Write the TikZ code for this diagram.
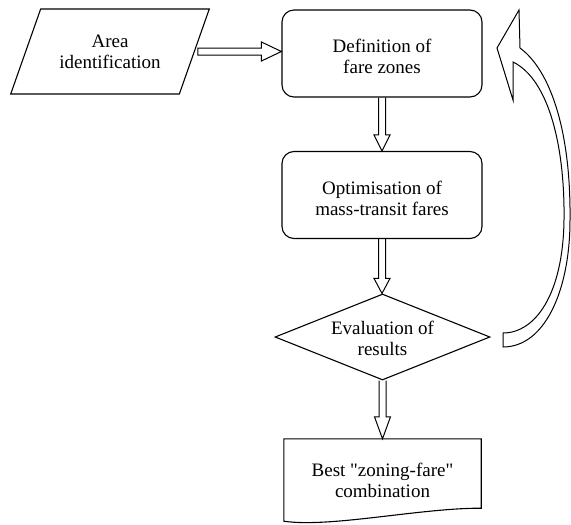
\documentclass[tikz,border=0pt]{standalone}
\usepackage{fontspec}
\setmainfont{Liberation Serif}
\newfontfamily\plainqfont{Liberation Serif}
\usetikzlibrary{shapes.geometric,calc}
\newcommand{\varrowdraw}[3]{\draw[blockarrow] let \p1=(#1), \p2=(#2) in (\x1-3.5pt,\y1) -- (\x1-3.5pt,\y2+#3) -- (\x1-8pt,\y2+#3) -- (\x1,\y2) -- (\x1+8pt,\y2+#3) -- (\x1+3.5pt,\y2+#3) -- (\x1+3.5pt,\y1);}
\newcommand{\dropstrut}{\rule{0pt}{19.5pt}}
\begin{document}
\begin{tikzpicture}[x=1pt,y=-1pt,
 every node/.style={font=\fontsize{19}{21}\selectfont, align=center},
 outline/.style={draw, line width=1.1pt},
 procbox/.style={outline, rectangle, rounded corners=12pt, minimum width=200pt, minimum height=87pt, inner sep=0pt},
 iobox/.style={outline, trapezium, trapezium left angle=60, trapezium right angle=120, trapezium stretches=true, minimum width=199pt, minimum height=85pt},
 decbox/.style={outline, diamond, aspect=2.5, inner sep=0pt, minimum width=215pt, minimum height=86pt},
 docbox/.style={rectangle, minimum width=197pt, minimum height=82pt, inner sep=0pt},
 blockarrow/.style={draw, line width=1pt, line join=miter}]
\useasboundingbox (0,0) rectangle (571,525);

\node[iobox] (area) at (110,51.5) {Area\\identification};
\node[procbox] (def) at (382,53.5) {\dropstrut Definition of\\fare zones};
\node[procbox] (opt) at (382,195) {\dropstrut Optimisation of\\mass-transit fares};
\node[decbox] (eval) at (382.5,337) {\rule{0pt}{17pt}Evaluation of\\results};
\node[docbox] (best) at (382.5,480) {{\plainqfont Best "zoning-fare"}\\combination};
\draw[outline] (best.south west) -- (best.north west) -- (best.north east) -- ($(best.south east)+(0,-13)$) .. controls (420,508) and (330,528) .. (best.south west) -- cycle;

% horizontal block arrow
\draw[blockarrow] let \p1=(area.east), \p2=(def.west) in (\x1+3pt,\y1+3.5pt) -- (\x2-20pt,\y1+3.5pt) -- (\x2-20pt,\y1+9.5pt) -- (\x2,\y1) -- (\x2-20pt,\y1-9.5pt) -- (\x2-20pt,\y1-3.5pt) -- (\x1+3pt,\y1-3.5pt) -- cycle;

% vertical block arrows
\varrowdraw{def.south}{opt.north}{16pt}
\varrowdraw{opt.south}{eval.north}{15pt}
\varrowdraw{eval.south}{best.north}{22pt}

% feedback curved arrow
\coordinate (loopTail) at (503,340);
\coordinate (loopTip) at (497,48);
\draw[blockarrow] (loopTip) -- (519,10) -- (520,48) .. controls (550,70) and (571,130) .. (570,220) .. controls (570,290) and (545,347) .. (503,347) -- (503,333) .. controls (535,333) and (563,295) .. (564,220) .. controls (565,150) and (550,80) .. (513,62) -- (513,100) -- cycle;
\end{tikzpicture}
\end{document}
